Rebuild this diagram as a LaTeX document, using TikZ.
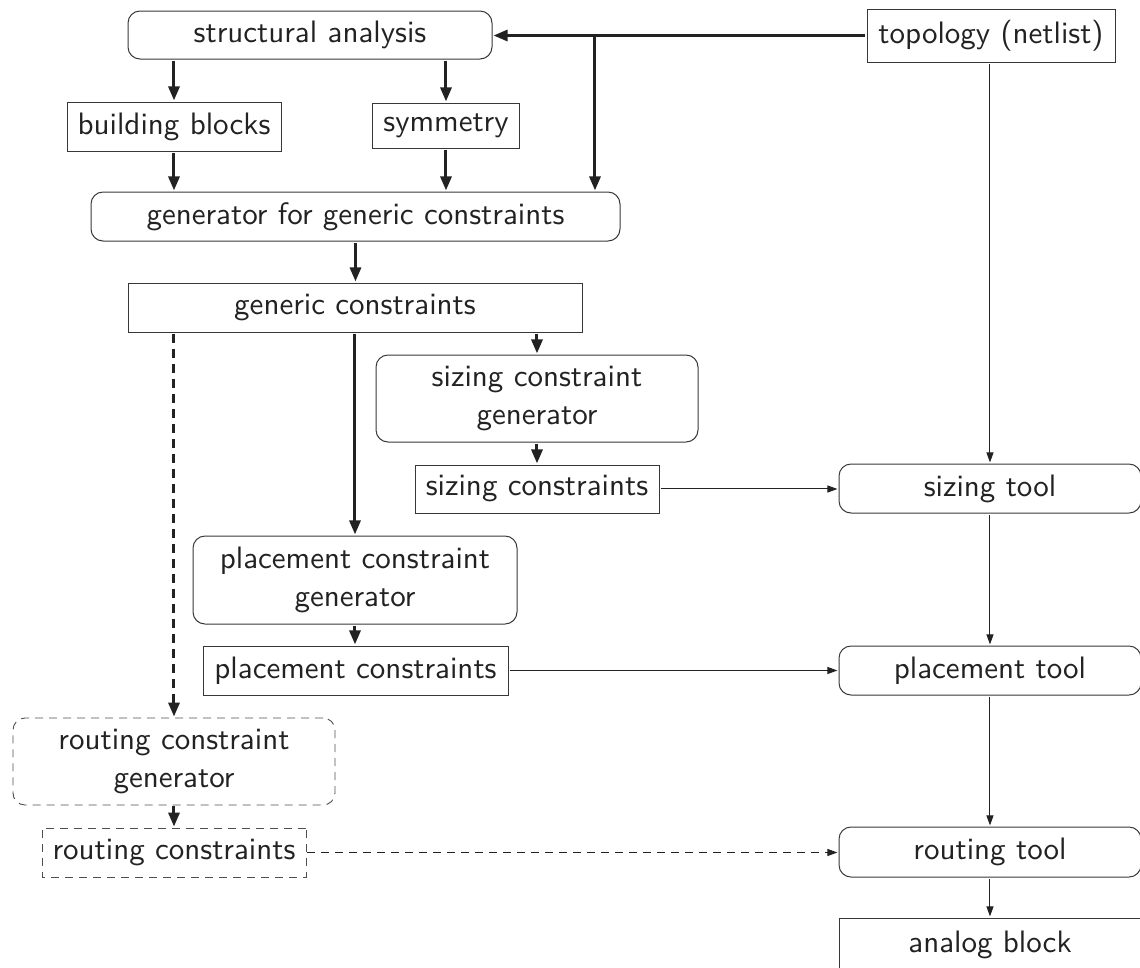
\documentclass[tikz,border=0pt]{standalone}
\usetikzlibrary{arrows.meta}
\definecolor{ink}{HTML}{222222}
% Text is set at 10pt and blown up with the picture; sizes are given in
% final units and divided by the blow-up factor.
\tikzset{
  sz/.style 2 args={minimum width=#1pt/3.1, minimum height=#2pt/3.1},
  every node/.style={font=\sffamily, text=ink, inner sep=0pt, align=center, transform shape},
  sqbox/.style={draw=ink!90, line width=1pt},
  rdbox/.style={draw=ink!90, line width=1pt, rounded corners=12pt},
  dashbox/.style={draw=ink!80, line width=0.9pt, dash pattern=on 8pt off 6pt},
  heavy/.style={draw=ink, line width=3pt, -{Triangle[length=14pt,width=11pt]}},
  heavydash/.style={heavy, dash pattern=on 9pt off 6pt},
  light/.style={draw=ink, line width=1pt, -{Triangle[length=10pt,width=7pt]}},
  lightdash/.style={light, dash pattern=on 8pt off 6pt},
}
\begin{document}
\begin{tikzpicture}[x=0.32258pt, y=-0.32258pt, scale=3.1]
\useasboundingbox (0,0) rectangle (1140,967);
\clip (0,0) rectangle (1140,967);

% analysis and generic constraint stage
\node[rdbox, sz={364}{48}] (SA) at (310,35) {structural analysis};
\node[sqbox, sz={248}{53}] (TOP) at (991,35.5) {topology (netlist)};
\node[sqbox, sz={214}{49}] (BB) at (174,126.5) {building blocks};
\node[sqbox, sz={147}{45}] (SYM) at (446,125.5) {symmetry};
\node[rdbox, sz={529}{49}] (GG) at (355.5,216.5) {generator for generic constraints};
\node[sqbox, sz={454}{49}] (GC) at (355,307.5) {generic constraints};

% sizing branch
\node[rdbox, sz={322}{87}] (SCG) at (537,398.5) {sizing constraint\\generator};
\node[sqbox, sz={244}{48}] (SC) at (537,489) {sizing constraints};
\node[rdbox, sz={302}{49}] (ST) at (990,488.5) {sizing tool};

% placement branch
\node[rdbox, sz={324}{88}] (PCG) at (355,580) {placement constraint\\generator};
\node[sqbox, sz={305}{49}] (PC) at (355.5,670.5) {placement constraints};
\node[rdbox, sz={302}{49}] (PT) at (990,670.5) {placement tool};

% routing branch (optional, dashed)
\node[dashbox, rounded corners=12pt, sz={322}{87}] (RCG) at (174,761.5) {routing constraint\\generator};
\node[dashbox, sz={264}{49}] (RC) at (174,852.5) {routing constraints};
\node[rdbox, sz={302}{50}] (RT) at (990,852) {routing tool};
\node[sqbox, sz={302}{54}] (AB) at (990,945) {analog block};

% heavy connectors
\coordinate (br) at (595,35.5);
\draw[heavy] (TOP.west) -- (TOP.west -| SA.east);
\draw[heavy] (br) -- (br |- GG.north);
\draw[heavy] (SA.south -| BB.north) -- (BB.north);
\draw[heavy] (SA.south -| SYM.north) -- (SYM.north);
\draw[heavy] (BB.south) -- (BB.south |- GG.north);
\draw[heavy] (SYM.south) -- (SYM.south |- GG.north);
\draw[heavy] (GG.south) -- (GG.south |- GC.north);
\draw[heavy] (GC.south -| SCG.north) -- (SCG.north);
\draw[heavy] (SCG.south) -- (SC.north);
\draw[heavy] (GC.south) -- (GC.south |- PCG.north);
\draw[heavy] (PCG.south) -- (PCG.south |- PC.north);
\draw[heavydash] (GC.south -| RCG.north) -- (RCG.north);
\draw[heavy] (RCG.south) -- (RC.north);

% light connectors
\draw[light] (SC.east) -- (SC.east -| ST.west);
\draw[light] (PC.east) -- (PC.east -| PT.west);
\draw[lightdash] (RC.east) -- (RC.east -| RT.west);
\draw[light] (TOP.south -| ST.north) -- (ST.north);
\draw[light] (ST.south) -- (PT.north);
\draw[light] (PT.south) -- (RT.north);
\draw[light] (RT.south) -- (AB.north);
\end{tikzpicture}
\end{document}
